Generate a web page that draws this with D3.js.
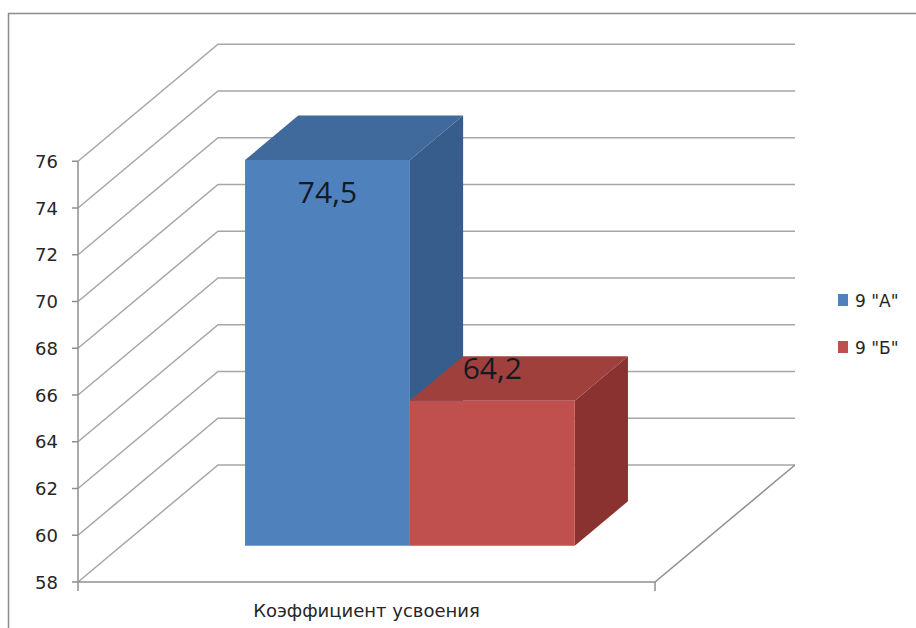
<!DOCTYPE html>
<html>
<head>
<meta charset="utf-8">
<script src="https://cdn.jsdelivr.net/npm/d3@7"></script>
<style>
  body { margin: 0; background: #fff; }
  svg { display: block; }
</style>
</head>
<body>
<div id="chart"></div>
<script>
// Data
const category = "Коэффициент усвоения";
const seriesNames = ['9 "А"', '9 "Б"'];
const seriesValues = [74.5, 64.2];
const valueLabels = ["74,5", "64,2"];
const yTicks = [58, 60, 62, 64, 66, 68, 70, 72, 74, 76];

const width = 916, height = 628;

// Colours for front / top / side of each box
const colors = [
	{ front: "#4f81bd", top: "#40699c", side: "#375d8c" },
	{ front: "#c0504d", top: "#a0403d", side: "#8a3230" }
];

// Plot geometry (front plane of the floor + depth projection)
const plot = { left: 78, right: 655, bottom: 582, top: 161.25 };
const depth = { dx: 140, dy: -117 };
// bars sit in the middle of the depth
const barDepth = { front: 0.31, back: 0.69 };

const svg = d3.select("#chart").append("svg")
	.attr("width", width)
	.attr("height", height);

// outer frame
svg.append("rect")
	.attr("x", 8.5).attr("y", 13.5)
	.attr("width", width + 20).attr("height", height + 20)
	.attr("fill", "none")
	.attr("stroke", "#8c8c8c")
	.attr("stroke-width", 1.5);

const y = d3.scaleLinear()
	.domain([58, 76])
	.range([plot.bottom, plot.top]);

const x = d3.scaleBand()
	.domain(seriesNames)
	.range([plot.left, plot.right])
	.paddingInner(0)
	.paddingOuter(0.75);

// project a point at depth d (0 = front, 1 = back wall)
const proj = (px, py, d) => [px + depth.dx * d, py + depth.dy * d];
const pts = arr => arr.map(p => p.join(",")).join(" ");

const gridColor = "#a6a6a6";
const textColor = "#262626";

// side wall + back wall gridlines
const grid = svg.append("g").attr("class", "grid");
yTicks.forEach(v => {
	const [bx, by] = proj(plot.left, y(v), 1);
	grid.append("polyline")
		.attr("points", pts([[plot.left, y(v)], [bx, by], [plot.right + depth.dx, by]]))
		.attr("fill", "none")
		.attr("stroke", gridColor)
		.attr("stroke-width", 1.5);
});

// floor outline
const [fbx, fby] = proj(plot.right, plot.bottom, 1);
grid.append("polyline")
	.attr("points", pts([[plot.left, plot.bottom], [plot.right, plot.bottom], [fbx, fby]]))
	.attr("fill", "none")
	.attr("stroke", "#8f8f8f")
	.attr("stroke-width", 1.5);

// vertical axis
const axis = svg.append("g").attr("class", "axis");
axis.append("line")
	.attr("x1", plot.left).attr("x2", plot.left)
	.attr("y1", y(58)).attr("y2", y(76))
	.attr("stroke", "#8f8f8f").attr("stroke-width", 1.5);

axis.selectAll("line.tick")
	.data(yTicks)
	.enter().append("line")
	.attr("class", "tick")
	.attr("x1", plot.left - 6).attr("x2", plot.left)
	.attr("y1", d => y(d)).attr("y2", d => y(d))
	.attr("stroke", "#8f8f8f").attr("stroke-width", 1.5);

axis.selectAll("text")
	.data(yTicks)
	.enter().append("text")
	.attr("x", plot.left - 20)
	.attr("y", d => y(d) + 6.5)
	.attr("text-anchor", "end")
	.attr("font-family", "DejaVu Sans")
	.attr("font-size", 18)
	.attr("fill", textColor)
	.text(d => d);

// category ticks on the floor front edge
[plot.left, plot.right].forEach(px => {
	axis.append("line")
		.attr("x1", px).attr("x2", px)
		.attr("y1", plot.bottom).attr("y2", plot.bottom + 9)
		.attr("stroke", "#8f8f8f").attr("stroke-width", 1.5);
});

svg.append("text")
	.attr("x", (plot.left + plot.right) / 2)
	.attr("y", 617)
	.attr("text-anchor", "middle")
	.attr("font-family", "DejaVu Sans")
	.attr("font-size", 18)
	.attr("fill", textColor)
	.text(category);

// 3D boxes
const bars = svg.append("g").attr("class", "bars");
seriesNames.forEach((name, i) => {
	const x0 = x(name), x1 = x(name) + x.bandwidth();
	const yb = y(58), yt = y(seriesValues[i]);
	const f = barDepth.front, b = barDepth.back;

	const A = proj(x0, yt, f), B = proj(x1, yt, f), C = proj(x1, yb, f), D = proj(x0, yb, f);
	const Bb = proj(x1, yt, b), Cb = proj(x1, yb, b), Ab = proj(x0, yt, b);

	// side face
	bars.append("polygon")
		.attr("points", pts([B, Bb, Cb, C]))
		.attr("fill", colors[i].side);
	// top face
	bars.append("polygon")
		.attr("points", pts([A, Ab, Bb, B]))
		.attr("fill", colors[i].top);
	// front face
	bars.append("polygon")
		.attr("points", pts([A, B, C, D]))
		.attr("fill", colors[i].front);
});

// value labels
const labelDy = [43, -22];
svg.selectAll("text.value")
	.data(seriesValues)
	.enter().append("text")
	.attr("class", "value")
	.attr("x", (d, i) => x(seriesNames[i]) + x.bandwidth() / 2 + depth.dx * barDepth.front)
	.attr("y", (d, i) => y(d) + depth.dy * barDepth.front + labelDy[i])
	.attr("text-anchor", "middle")
	.attr("font-family", "Open Sans")
	.attr("font-size", 30)
	.attr("fill", "#141a24")
	.text((d, i) => valueLabels[i]);

// legend
const legend = svg.append("g").attr("transform", "translate(838, 294)");
seriesNames.forEach((name, i) => {
	legend.append("rect")
		.attr("x", 0).attr("y", i * 47)
		.attr("width", 10).attr("height", 12)
		.attr("fill", colors[i].front);
	legend.append("text")
		.attr("x", 17).attr("y", i * 47 + 13)
		.attr("font-family", "DejaVu Sans")
		.attr("font-size", 17)
		.attr("fill", textColor)
		.text(name);
});
</script>
</body>
</html>
